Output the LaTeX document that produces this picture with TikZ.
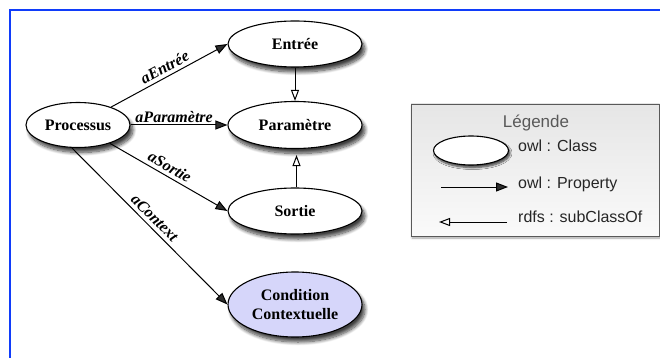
\documentclass[tikz,border=0pt]{standalone}
\usepackage{fontspec}
\setmainfont{Liberation Serif}
\newfontfamily\legfont{Liberation Sans}
\usetikzlibrary{shapes.geometric,arrows.meta,shadows.blur}
\definecolor{frameblue}{RGB}{16,60,250}
\definecolor{condfill}{RGB}{214,214,250}
\begin{document}
\begin{tikzpicture}[x=1pt,y=1pt,
  cls/.style={ellipse,draw,line width=1.1pt,fill=white,minimum width=134pt,minimum height=46pt,inner sep=0pt,
    font=\fontsize{16}{19}\selectfont\bfseries,
    blur shadow={shadow xshift=3pt,shadow yshift=-5pt,shadow blur radius=3.5pt,shadow blur steps=10,shadow opacity=75}},
  prop/.style={-{Triangle[length=12pt,width=9pt]},line width=1pt},
  sub/.style={-{Triangle[open,length=11pt,width=8pt]},line width=1pt},
  lbl/.style={font=\fontsize{16}{18}\selectfont\bfseries\itshape,sloped,above,inner sep=3.5pt},
  legtxt/.style={font=\legfont\fontsize{16}{18}\selectfont,anchor=base west,inner sep=0pt,text=black!85}]
\useasboundingbox (0,0) rectangle (660,-358);
\draw[frameblue,line width=2pt] (9.5,-358) -- (9.5,-10) -- (660,-10);
% legend box
\draw[black!65,line width=0.8pt,top color=black!10,bottom color=black!2,
  blur shadow={shadow xshift=1pt,shadow yshift=-2pt,shadow blur radius=2pt,shadow blur steps=5,shadow opacity=35}]
  (411,-104) rectangle (659.5,-236);
% nodes
\node[cls,minimum width=104pt,minimum height=45pt] (proc) at (78,-125) {Processus};
\node[cls] (ent) at (295,-44) {Entrée};
\node[cls,minimum height=47pt] (par) at (295,-125) {Paramètre};
\node[cls] (sor) at (295,-211) {Sortie};
\node[cls,fill=condfill,minimum height=65pt,align=center] (cond) at (295,-304.5) {Condition\\Contextuelle};
% edges
\draw[prop] (proc) -- (ent.west) node[lbl,pos=0.5] {aEntrée};
\draw[prop] (proc) -- (par.west) node[lbl,pos=0.45,inner sep=2pt] {aParamètre};
\draw[prop] (proc) -- (sor.west) node[lbl,pos=0.47] {aSortie};
\draw[prop] (proc.-105) -- (cond.west) node[lbl,pos=0.49] {aContext};
\draw[sub] (ent.south) -- (par.north);
\draw[sub,shorten >=6pt] ([xshift=1.5pt]sor.north) -- ([xshift=1.5pt]par.south);
% legend
\node[font=\legfont\fontsize{17}{19}\selectfont,text=black!65,anchor=base,inner sep=0pt] (legt) at (536,-128) {Légende};
\node[cls,minimum width=75pt,minimum height=29pt,
  blur shadow={shadow xshift=1.5pt,shadow yshift=-2.5pt,shadow blur radius=2pt,shadow blur steps=6,shadow opacity=45}] (legc) at (471,-150.5) {};
\node[legtxt] (t1) at (518,-152) {owl : Class};
\coordinate (p1) at (441,-187);
\coordinate (p2) at (508,-187);
\draw[prop] (p1) -- (p2);
\node[legtxt] (t2) at (518,-188) {owl : Property};
\coordinate (s1) at (507,-222);
\coordinate (s2) at (439,-222);
\draw[sub] (s1) -- (s2);
\node[legtxt] (t3) at (518,-222) {rdfs : subClassOf};
\end{tikzpicture}
\end{document}
